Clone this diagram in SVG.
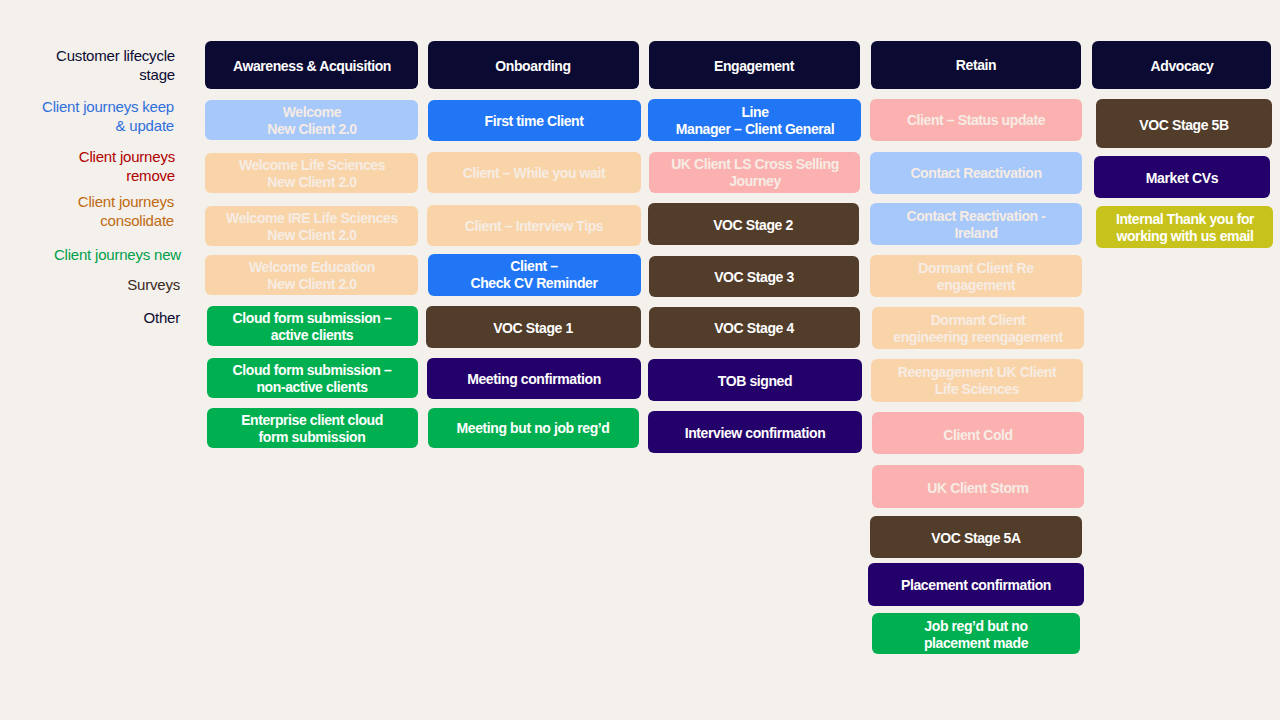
<svg xmlns="http://www.w3.org/2000/svg" width="1280" height="720" viewBox="0 0 1280 720">
<style>
.l{font-family:"Liberation Sans",Arial,sans-serif;font-size:15px;text-anchor:end;letter-spacing:-0.2px}
.t{font-family:"Liberation Sans",Arial,sans-serif;font-size:14px;font-weight:bold;text-anchor:middle;fill:#fff;letter-spacing:-0.4px}
.f{fill:#f6ece4}
.nv{fill:#0b0a33}.lb{fill:#a6c8fb}.pc{fill:#f9d4a8}.bl{fill:#2176f5}.pk{fill:#fbb1b0}.br{fill:#523c2a}.pu{fill:#24006a}.gr{fill:#00b050}.ye{fill:#c8c31c}
</style>
<rect width="1280" height="720" fill="#f4f0ec"/>
<g id="legend">
<text class="l" x="175" y="61" fill="#0b0a33">Customer lifecycle</text><text class="l" x="175" y="80" fill="#0b0a33">stage</text>
<text class="l" x="174" y="112" fill="#2f6fdc">Client journeys keep</text><text class="l" x="174" y="131" fill="#2f6fdc">&amp; update</text>
<text class="l" x="175" y="162" fill="#b00000">Client journeys</text><text class="l" x="175" y="181" fill="#b00000">remove</text>
<text class="l" x="174" y="207" fill="#c06a10">Client journeys</text><text class="l" x="174" y="226" fill="#c06a10">consolidate</text>
<text class="l" x="181" y="260" fill="#00a04a">Client journeys new</text>
<text class="l" x="180" y="290" fill="#3a2a1a">Surveys</text>
<text class="l" x="180" y="323" fill="#0b0a33">Other</text>
</g>
<g id="c1">
<g id="n1"><rect class="nv" x="205" y="41" width="213" height="48" rx="6"/><text class="t" x="312" y="71">Awareness &amp; Acquisition</text></g>
<g id="n2"><rect class="lb" x="205" y="100" width="213" height="40" rx="6"/><text class="t f" x="312" y="117">Welcome</text><text class="t f" x="312" y="134">New Client 2.0</text></g>
<g id="n3"><rect class="pc" x="205" y="153" width="213" height="40" rx="6"/><text class="t f" x="312" y="170">Welcome Life Sciences</text><text class="t f" x="312" y="187">New Client 2.0</text></g>
<g id="n4"><rect class="pc" x="205" y="206" width="213" height="40" rx="6"/><text class="t f" x="312" y="223">Welcome IRE Life Sciences</text><text class="t f" x="312" y="240">New Client 2.0</text></g>
<g id="n5"><rect class="pc" x="205" y="255" width="213" height="40" rx="6"/><text class="t f" x="312" y="272">Welcome Education</text><text class="t f" x="312" y="289">New Client 2.0</text></g>
<g id="n6"><rect class="gr" x="207" y="306" width="211" height="40" rx="6"/><text class="t" x="312" y="323">Cloud form submission –</text><text class="t" x="312" y="340">active clients</text></g>
<g id="n7"><rect class="gr" x="207" y="358" width="211" height="40" rx="6"/><text class="t" x="312" y="375">Cloud form submission –</text><text class="t" x="312" y="392">non-active clients</text></g>
<g id="n8"><rect class="gr" x="207" y="408" width="211" height="40" rx="6"/><text class="t" x="312" y="425">Enterprise client cloud</text><text class="t" x="312" y="442">form submission</text></g>
</g>
<g id="c2">
<g id="n9"><rect class="nv" x="428" y="41" width="211" height="48" rx="6"/><text class="t" x="533" y="71">Onboarding</text></g>
<g id="n10"><rect class="bl" x="428" y="100" width="213" height="41" rx="6"/><text class="t" x="534" y="126">First time Client</text></g>
<g id="n11"><rect class="pc" x="427" y="152" width="214" height="41" rx="6"/><text class="t f" x="534" y="178">Client – While you wait</text></g>
<g id="n12"><rect class="pc" x="427" y="205" width="214" height="41" rx="6"/><text class="t f" x="534" y="231">Client – Interview Tips</text></g>
<g id="n13"><rect class="bl" x="428" y="254" width="213" height="42" rx="6"/><text class="t" x="534" y="271">Client –</text><text class="t" x="534" y="288">Check CV Reminder</text></g>
<g id="n14"><rect class="br" x="426" y="306" width="215" height="42" rx="6"/><text class="t" x="533" y="333">VOC Stage 1</text></g>
<g id="n15"><rect class="pu" x="427" y="358" width="214" height="41" rx="6"/><text class="t" x="534" y="384">Meeting confirmation</text></g>
<g id="n16"><rect class="gr" x="428" y="408" width="211" height="40" rx="6"/><text class="t" x="533" y="433">Meeting but no job reg’d</text></g>
</g>
<g id="c3">
<g id="n17"><rect class="nv" x="649" y="41" width="211" height="48" rx="6"/><text class="t" x="754" y="71">Engagement</text></g>
<g id="n18"><rect class="bl" x="648" y="99" width="213" height="42" rx="6"/><text class="t" x="755" y="117">Line</text><text class="t" x="755" y="134">Manager – Client General</text></g>
<g id="n19"><rect class="pk" x="649" y="152" width="211" height="41" rx="6"/><text class="t f" x="755" y="169">UK Client LS Cross Selling</text><text class="t f" x="755" y="186">Journey</text></g>
<g id="n20"><rect class="br" x="648" y="203" width="211" height="42" rx="6"/><text class="t" x="753" y="230">VOC Stage 2</text></g>
<g id="n21"><rect class="br" x="649" y="256" width="210" height="41" rx="6"/><text class="t" x="754" y="282">VOC Stage 3</text></g>
<g id="n22"><rect class="br" x="649" y="307" width="211" height="41" rx="6"/><text class="t" x="754" y="333">VOC Stage 4</text></g>
<g id="n23"><rect class="pu" x="648" y="359" width="214" height="42" rx="6"/><text class="t" x="755" y="386">TOB signed</text></g>
<g id="n24"><rect class="pu" x="648" y="411" width="214" height="42" rx="6"/><text class="t" x="755" y="438">Interview confirmation</text></g>
</g>
<g id="c4">
<g id="n25"><rect class="nv" x="871" y="41" width="210" height="48" rx="6"/><text class="t" x="976" y="70">Retain</text></g>
<g id="n26"><rect class="pk" x="870" y="99" width="212" height="42" rx="6"/><text class="t f" x="976" y="125">Client – Status update</text></g>
<g id="n27"><rect class="lb" x="870" y="152" width="212" height="42" rx="6"/><text class="t f" x="976" y="178">Contact Reactivation</text></g>
<g id="n28"><rect class="lb" x="870" y="203" width="212" height="42" rx="6"/><text class="t f" x="976" y="221">Contact Reactivation -</text><text class="t f" x="976" y="238">Ireland</text></g>
<g id="n29"><rect class="pc" x="870" y="255" width="212" height="42" rx="6"/><text class="t f" x="976" y="273">Dormant Client Re</text><text class="t f" x="976" y="290">engagement</text></g>
<g id="n30"><rect class="pc" x="872" y="307" width="212" height="42" rx="6"/><text class="t f" x="978" y="325">Dormant Client</text><text class="t f" x="978" y="342">engineering reengagement</text></g>
<g id="n31"><rect class="pc" x="871" y="359" width="212" height="43" rx="6"/><text class="t f" x="977" y="377">Reengagement UK Client</text><text class="t f" x="977" y="394">Life Sciences</text></g>
<g id="n32"><rect class="pk" x="872" y="412" width="212" height="42" rx="6"/><text class="t f" x="978" y="440">Client Cold</text></g>
<g id="n33"><rect class="pk" x="872" y="465" width="212" height="43" rx="6"/><text class="t f" x="978" y="493">UK Client Storm</text></g>
<g id="n34"><rect class="br" x="870" y="516" width="212" height="42" rx="6"/><text class="t" x="976" y="543">VOC Stage 5A</text></g>
<g id="n35"><rect class="pu" x="868" y="563" width="216" height="43" rx="6"/><text class="t" x="976" y="590">Placement confirmation</text></g>
<g id="n36"><rect class="gr" x="872" y="613" width="208" height="41" rx="6"/><text class="t" x="976" y="631">Job reg’d but no</text><text class="t" x="976" y="648">placement made</text></g>
</g>
<g id="c5">
<g id="n37"><rect class="nv" x="1092" y="41" width="179" height="48" rx="6"/><text class="t" x="1182" y="71">Advocacy</text></g>
<g id="n38"><rect class="br" x="1096" y="99" width="176" height="49" rx="6"/><text class="t" x="1184" y="130">VOC Stage 5B</text></g>
<g id="n39"><rect class="pu" x="1094" y="156" width="176" height="42" rx="6"/><text class="t" x="1182" y="183">Market CVs</text></g>
<g id="n40"><rect class="ye" x="1096" y="206" width="177" height="42" rx="6"/><text class="t" x="1185" y="224">Internal Thank you for</text><text class="t" x="1185" y="241">working with us email</text></g>
</g>
<g id="connectors"/>
</svg>
